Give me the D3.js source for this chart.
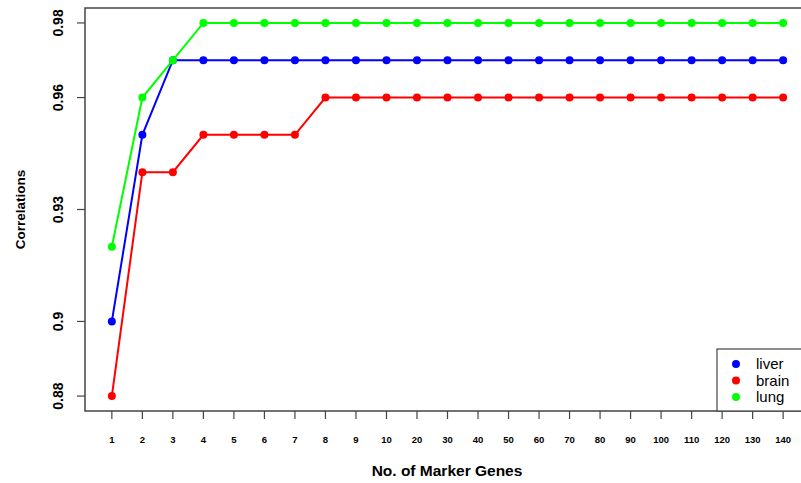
<!DOCTYPE html>
<html>
<body>
    <style>
        body, html { margin: 0; padding: 0; background: #fff; }
        svg { display: block; }
        text { font-family: "Liberation Sans", Arial, sans-serif; }
    </style>

    <svg width="801" height="483"></svg>

    <script src="https://cdn.jsdelivr.net/npm/d3@7"></script>
    <script>
        var genes = ["1", "2", "3", "4", "5", "6", "7", "8", "9", "10", "20", "30", "40", "50",
                     "60", "70", "80", "90", "100", "110", "120", "130", "140"];
        var liver = [0.90, 0.95, 0.97, 0.97, 0.97, 0.97, 0.97, 0.97, 0.97, 0.97, 0.97, 0.97,
                     0.97, 0.97, 0.97, 0.97, 0.97, 0.97, 0.97, 0.97, 0.97, 0.97, 0.97];
        var brain = [0.88, 0.94, 0.94, 0.95, 0.95, 0.95, 0.95, 0.96, 0.96, 0.96, 0.96, 0.96,
                     0.96, 0.96, 0.96, 0.96, 0.96, 0.96, 0.96, 0.96, 0.96, 0.96, 0.96];
        var lung  = [0.92, 0.96, 0.97, 0.98, 0.98, 0.98, 0.98, 0.98, 0.98, 0.98, 0.98, 0.98,
                     0.98, 0.98, 0.98, 0.98, 0.98, 0.98, 0.98, 0.98, 0.98, 0.98, 0.98];
        var yTicks = [0.88, 0.9, 0.93, 0.96, 0.98];

        var series = [
            { name: "liver", color: "#0000ff", values: liver },
            { name: "brain", color: "#ff0000", values: brain },
            { name: "lung",  color: "#00ff00", values: lung }
        ];

        var svg = d3.select("svg");
        var plotLeft = 85, plotTop = 8, plotBottom = 411;

        // index scale, padded like R's default 4% axis extension
        var x = d3.scaleLinear().domain([0.12, 23.88]).range([plotLeft, 810]);
        var y = d3.scaleLinear().domain([0.876, 0.984]).range([plotBottom, plotTop]);
        var frameColor = "#444";

        // frame (right side runs off the picture)
        svg.append("path")
            .attr("d", "M810," + plotTop + "H" + plotLeft + "V" + plotBottom + "H810")
            .attr("fill", "none").attr("stroke", frameColor).attr("stroke-width", 1.5);

        // x axis ticks
        var xg = svg.append("g");
        xg.selectAll("line").data(genes).enter().append("line")
            .attr("x1", function(d, i) { return x(i + 1); })
            .attr("x2", function(d, i) { return x(i + 1); })
            .attr("y1", plotBottom).attr("y2", plotBottom + 8)
            .attr("stroke", frameColor).attr("stroke-width", 1.2);
        xg.selectAll("text").data(genes).enter().append("text")
            .attr("x", function(d, i) { return x(i + 1); })
            .attr("y", 443)
            .attr("text-anchor", "middle")
            .attr("font-size", "9.5px").attr("font-weight", "bold")
            .text(function(d) { return d; });

        // y axis ticks
        var yg = svg.append("g");
        yg.selectAll("line").data(yTicks).enter().append("line")
            .attr("x1", plotLeft).attr("x2", plotLeft - 8)
            .attr("y1", function(d) { return y(d); })
            .attr("y2", function(d) { return y(d); })
            .attr("stroke", frameColor).attr("stroke-width", 1.2);
        yg.selectAll("text").data(yTicks).enter().append("text")
            .attr("transform", function(d) { return "translate(63," + y(d) + ") rotate(-90)"; })
            .attr("text-anchor", "middle")
            .attr("font-size", "14px").attr("font-weight", "bold")
            .text(function(d) { return String(d); });

        // axis titles
        svg.append("text")
            .attr("x", 447).attr("y", 476)
            .attr("text-anchor", "middle")
            .attr("font-size", "15.5px").attr("font-weight", "bold")
            .text("No. of Marker Genes");
        svg.append("text")
            .attr("transform", "translate(25," + (plotTop + plotBottom) / 2 + ") rotate(-90)")
            .attr("text-anchor", "middle")
            .attr("font-size", "13.5px").attr("font-weight", "bold")
            .text("Correlations");

        // lines and points
        var line = d3.line()
            .x(function(d, i) { return x(i + 1); })
            .y(function(d) { return y(d); });

        series.forEach(function(s) {
            var g = svg.append("g");
            g.append("path")
                .attr("d", line(s.values))
                .attr("fill", "none").attr("stroke", s.color).attr("stroke-width", 2);
            g.selectAll("circle").data(s.values).enter().append("circle")
                .attr("cx", function(d, i) { return x(i + 1); })
                .attr("cy", function(d) { return y(d); })
                .attr("r", 4)
                .attr("fill", s.color);
        });

        // legend
        var legend = svg.append("g");
        legend.append("rect")
            .attr("x", 717).attr("y", 349).attr("width", 100).attr("height", plotBottom - 349)
            .attr("fill", "#fff").attr("stroke", frameColor).attr("stroke-width", 1.2);
        series.forEach(function(s, i) {
            legend.append("circle")
                .attr("cx", 736).attr("cy", 364 + i * 16.5).attr("r", 4)
                .attr("fill", s.color);
            legend.append("text")
                .attr("x", 756).attr("y", 369 + i * 16.5)
                .attr("font-size", "15px")
                .text(s.name);
        });
    </script>
</body>
</html>
